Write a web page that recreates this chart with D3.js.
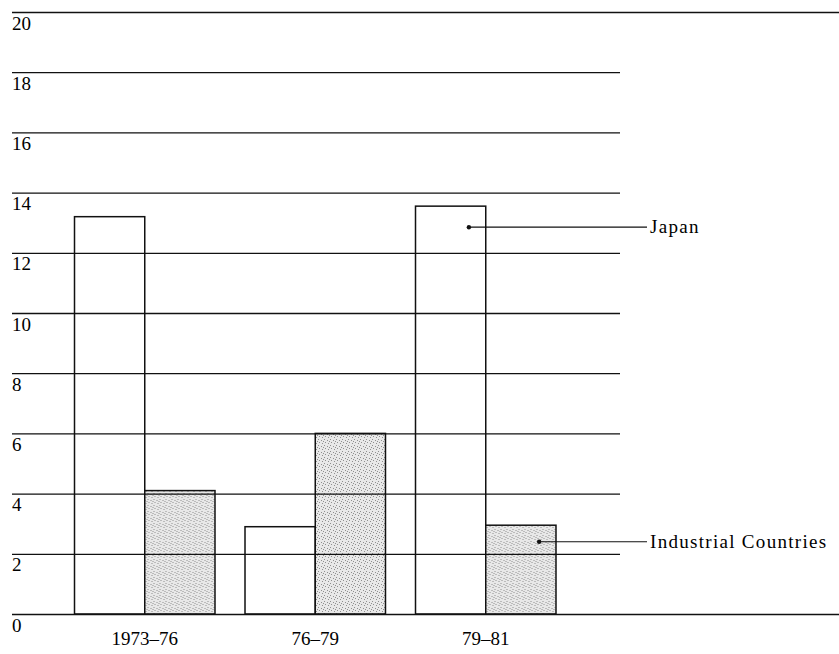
<!DOCTYPE html>
<html>
<head>
<meta charset="utf-8">
<script src="https://cdn.jsdelivr.net/npm/d3@7"></script>
<style>
  body { margin: 0; background: #fff; }
  text { font-family: "Liberation Serif", "DejaVu Serif", serif; fill: #000; }
</style>
</head>
<body>
<script>
const width = 839;
const height = 654;

// data
const periods = ["1973–76", "76–79", "79–81"];
const series = ["Japan", "Industrial Countries"];
const japan = [13.2, 2.9, 13.55];
const industrial = [4.1, 6.0, 2.95];
const yTicks = [0, 2, 4, 6, 8, 10, 12, 14, 16, 18, 20];
const labelValues = [12.85, 2.4]; // where the leader lines start

const rows = periods.map((p, i) => ({ period: p, values: [japan[i], industrial[i]] }));

const svg = d3.select("body").append("svg")
  .attr("width", width)
  .attr("height", height);

// stipple pattern for the shaded bars
const defs = svg.append("defs");
const pat = defs.append("pattern")
  .attr("id", "stipple")
  .attr("patternUnits", "userSpaceOnUse")
  .attr("width", 6)
  .attr("height", 6);
pat.append("rect").attr("width", 6).attr("height", 6).attr("fill", "#e8e8e8");
[[1, 1], [4, 2], [2, 4], [5, 5], [0, 3]].forEach(([cx, cy]) => {
  pat.append("rect").attr("x", cx).attr("y", cy).attr("width", 1).attr("height", 1).attr("fill", "#8f8f8f");
});

const y = d3.scaleLinear().domain([0, 20]).range([614, 12]);

const x = d3.scaleBand()
  .domain(periods)
  .range([59.5, 571])
  .paddingInner(0.176)
  .paddingOuter(0.088);

const xInner = d3.scaleBand()
  .domain(series)
  .range([0, x.bandwidth()]);

// bars
const groups = svg.append("g").selectAll("g")
  .data(rows)
  .enter().append("g")
  .attr("transform", d => `translate(${x(d.period)},0)`);

groups.selectAll("rect")
  .data(d => d.values.map((v, i) => ({ key: series[i], value: v })))
  .enter().append("rect")
  .attr("x", d => xInner(d.key))
  .attr("y", d => y(d.value))
  .attr("width", xInner.bandwidth())
  .attr("height", d => y(0) - y(d.value))
  .attr("fill", d => d.key === "Japan" ? "none" : "url(#stipple)")
  .attr("stroke", "#111")
  .attr("stroke-width", 1.5);

// gridlines on top of the bars
const yAxis = d3.axisLeft(y)
  .tickValues(yTicks)
  .tickSize(-608)
  .tickFormat(d => d);

const axisG = svg.append("g")
  .attr("transform", "translate(620,0)")
  .call(yAxis);
axisG.select(".domain").remove();
axisG.selectAll(".tick line")
  .attr("stroke", "#111")
  .attr("stroke-width", 1.3)
  .attr("x2", d => (d === 0 || d === 20) ? 219 : 0)
  .attr("x1", -608);
axisG.selectAll(".tick text")
  .attr("x", -608)
  .attr("dy", null)
  .attr("y", 17)
  .attr("text-anchor", "start")
  .style("font-family", "'Liberation Serif', serif")
  .style("font-size", "19px")
  .attr("fill", "#000");

// category labels, centred on each group
svg.append("g").selectAll("text")
  .data(periods)
  .enter().append("text")
  .attr("x", d => x(d) + x.bandwidth() / 2)
  .attr("y", 645)
  .attr("text-anchor", "middle")
  .style("font-size", "19px")
  .text(d => d);

// series labels with leader lines from the last group
const last = periods[periods.length - 1];
const labels = svg.append("g").selectAll("g")
  .data(series)
  .enter().append("g");

labels.append("line")
  .attr("x1", d => x(last) + xInner(d) + xInner.bandwidth() * 0.76)
  .attr("x2", 647)
  .attr("y1", (d, i) => y(labelValues[i]))
  .attr("y2", (d, i) => y(labelValues[i]))
  .attr("stroke", "#111")
  .attr("stroke-width", 1.2);

labels.append("circle")
  .attr("cx", d => x(last) + xInner(d) + xInner.bandwidth() * 0.76)
  .attr("cy", (d, i) => y(labelValues[i]))
  .attr("r", 2.2)
  .attr("fill", "#111");

labels.append("text")
  .attr("x", 650)
  .attr("y", (d, i) => y(labelValues[i]) + 6)
  .style("font-size", "19px")
  .style("letter-spacing", "1.3px")
  .text(d => d);
</script>
</body>
</html>
